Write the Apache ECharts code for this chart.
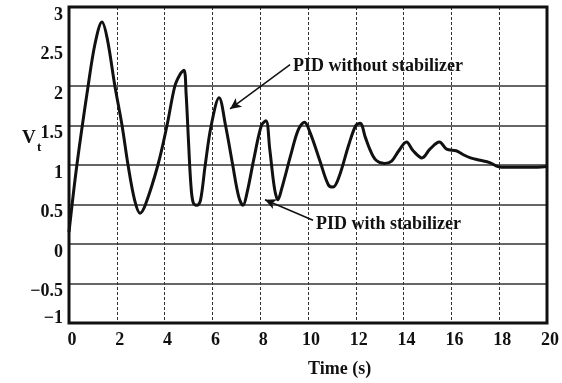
<!DOCTYPE html>
<html>
<head>
<meta charset="utf-8">
<script src="https://cdn.jsdelivr.net/npm/echarts@6/dist/echarts.min.js"></script>
<style>
html,body{margin:0;padding:0;background:#fff;}
#chart{width:562px;height:383px;}
</style>
</head>
<body>
<div id="chart"></div>
<script>
// Time (s)
var timeValues = [0, 0.33, 0.8, 1.1, 1.38, 1.6, 1.92, 2.22, 2.47, 2.75, 2.97, 3.2, 3.72, 4.1, 4.43, 4.65, 4.81,
  4.9, 5.0, 5.1, 5.2, 5.36, 5.5, 5.7, 5.95, 6.28, 6.55, 6.85, 7.1, 7.28, 7.45, 7.75, 8.05, 8.24,
  8.4, 8.6, 8.74, 8.9, 9.3, 9.6, 9.85, 10.1, 10.5, 10.85, 11.05, 11.3, 11.7, 12.0, 12.18,
  12.4, 12.6, 12.85, 13.2, 13.5, 13.8, 14.12, 14.4, 14.77, 15.1, 15.5, 15.8, 16.2, 16.5,
  16.8, 17.2, 17.6, 17.95, 18.3, 19.6, 20];
// Vt
var vtValues = [0.15, 1.0, 2.0, 2.55, 2.81, 2.6, 2.0, 1.5, 1.0, 0.55, 0.39, 0.5, 1.0, 1.5, 2.0, 2.15, 2.2,
  1.9, 1.3, 0.75, 0.52, 0.49, 0.55, 1.0, 1.5, 1.85, 1.5, 1.0, 0.6, 0.49, 0.65, 1.1, 1.5, 1.56,
  1.2, 0.7, 0.56, 0.7, 1.15, 1.45, 1.54, 1.4, 1.05, 0.75, 0.72, 0.85, 1.25, 1.5, 1.53,
  1.35, 1.19, 1.06, 1.02, 1.05, 1.18, 1.29, 1.18, 1.09, 1.2, 1.29, 1.2, 1.18, 1.13,
  1.09, 1.06, 1.03, 0.98, 0.97, 0.97, 0.98];
var xTicks = [0, 2, 4, 6, 8, 10, 12, 14, 16, 18, 20];
var yTicks = [-1, -0.5, 0, 0.5, 1, 1.5, 2, 2.5, 3];
var yGridLines = [-0.5, 0, 0.5, 1, 1.5, 2];
var annotationTexts = ['PID without stabilizer', 'PID with stabilizer'];
// arrow endpoints in data space [t, v]
var arrowWithout = [[9.25, 2.27], [6.74, 1.71]];
var arrowWith = [[10.21, 0.30], [8.2, 0.56]];

var serif = '"Liberation Serif", "DejaVu Serif", serif';
var chart = echarts.init(document.getElementById('chart'));
var seriesData = timeValues.map(function (t, i) { return [t, vtValues[i]]; });
var labelFont = { fontFamily: serif, fontWeight: 'bold', fontSize: 18, color: '#111' };

chart.setOption({
  animation: false,
  backgroundColor: '#fff',
  grid: { left: 69, top: 7, width: 478, height: 316, show: true, borderColor: '#111', borderWidth: 3, backgroundColor: 'transparent', z: 10 },
  xAxis: {
    type: 'value', min: xTicks[0], max: xTicks[xTicks.length - 1], interval: 2,
    axisLine: { show: false }, axisTick: { show: false },
    splitLine: { show: true, lineStyle: { color: '#333', width: 1, type: [3, 2] } },
    axisLabel: { fontFamily: serif, fontWeight: 'bold', fontSize: 18, color: '#111', margin: 8, padding: [0, 0, 0, 6] }
  },
  yAxis: {
    type: 'value', min: yTicks[0], max: yTicks[yTicks.length - 1], interval: 0.5,
    axisLine: { show: false }, axisTick: { show: false },
    splitLine: { show: false },
    axisLabel: {
      margin: 6,
      verticalAlign: 'middle',
      formatter: function (v) {
        var s = String(v).replace('-', '\u2212');
        return v === yTicks[0] ? '{low|' + s + '}' : '{n|' + s + '}';
      },
      rich: {
        n: Object.assign({ padding: [16, 0, 0, 0] }, labelFont),
        low: Object.assign({ padding: [0, 0, 10, 0] }, labelFont)
      }
    }
  },
  series: [
    {
      type: 'line', data: seriesData, smooth: 0.35, showSymbol: false, symbol: 'none',
      lineStyle: { color: '#111', width: 3 }, z: 5,
      markLine: {
        silent: true, symbol: 'none', label: { show: false },
        lineStyle: { color: '#333', width: 1.5, type: 'solid' },
        data: yGridLines.map(function (y) { return { yAxis: y }; }),
        z: 1
      }
    },
    {
      type: 'line', data: [], z: 6,
      markLine: {
        silent: true, symbol: ['none', 'arrow'], symbolSize: [8, 11], label: { show: false },
        lineStyle: { color: '#111', width: 1.5, type: 'solid' },
        data: [
          [{ coord: arrowWithout[0] }, { coord: arrowWithout[1] }],
          [{ coord: arrowWith[0] }, { coord: arrowWith[1] }]
        ]
      }
    }
  ],
  graphic: [
    { type: 'text', left: 293, top: 57, style: { text: annotationTexts[0], font: 'bold 18px ' + serif, fill: '#111' } },
    { type: 'text', left: 316, top: 215, style: { text: annotationTexts[1], font: 'bold 18px ' + serif, fill: '#111' } },
    { type: 'text', left: 308, top: 360, style: { text: 'Time (s)', font: 'bold 18px ' + serif, fill: '#111' } },
    { type: 'text', left: 22, top: 129, style: { text: 'V', font: 'bold 19px ' + serif, fill: '#111' } },
    { type: 'text', left: 37, top: 141, style: { text: 't', font: 'bold 13px ' + serif, fill: '#111' } }
  ]
});
</script>
</body>
</html>
